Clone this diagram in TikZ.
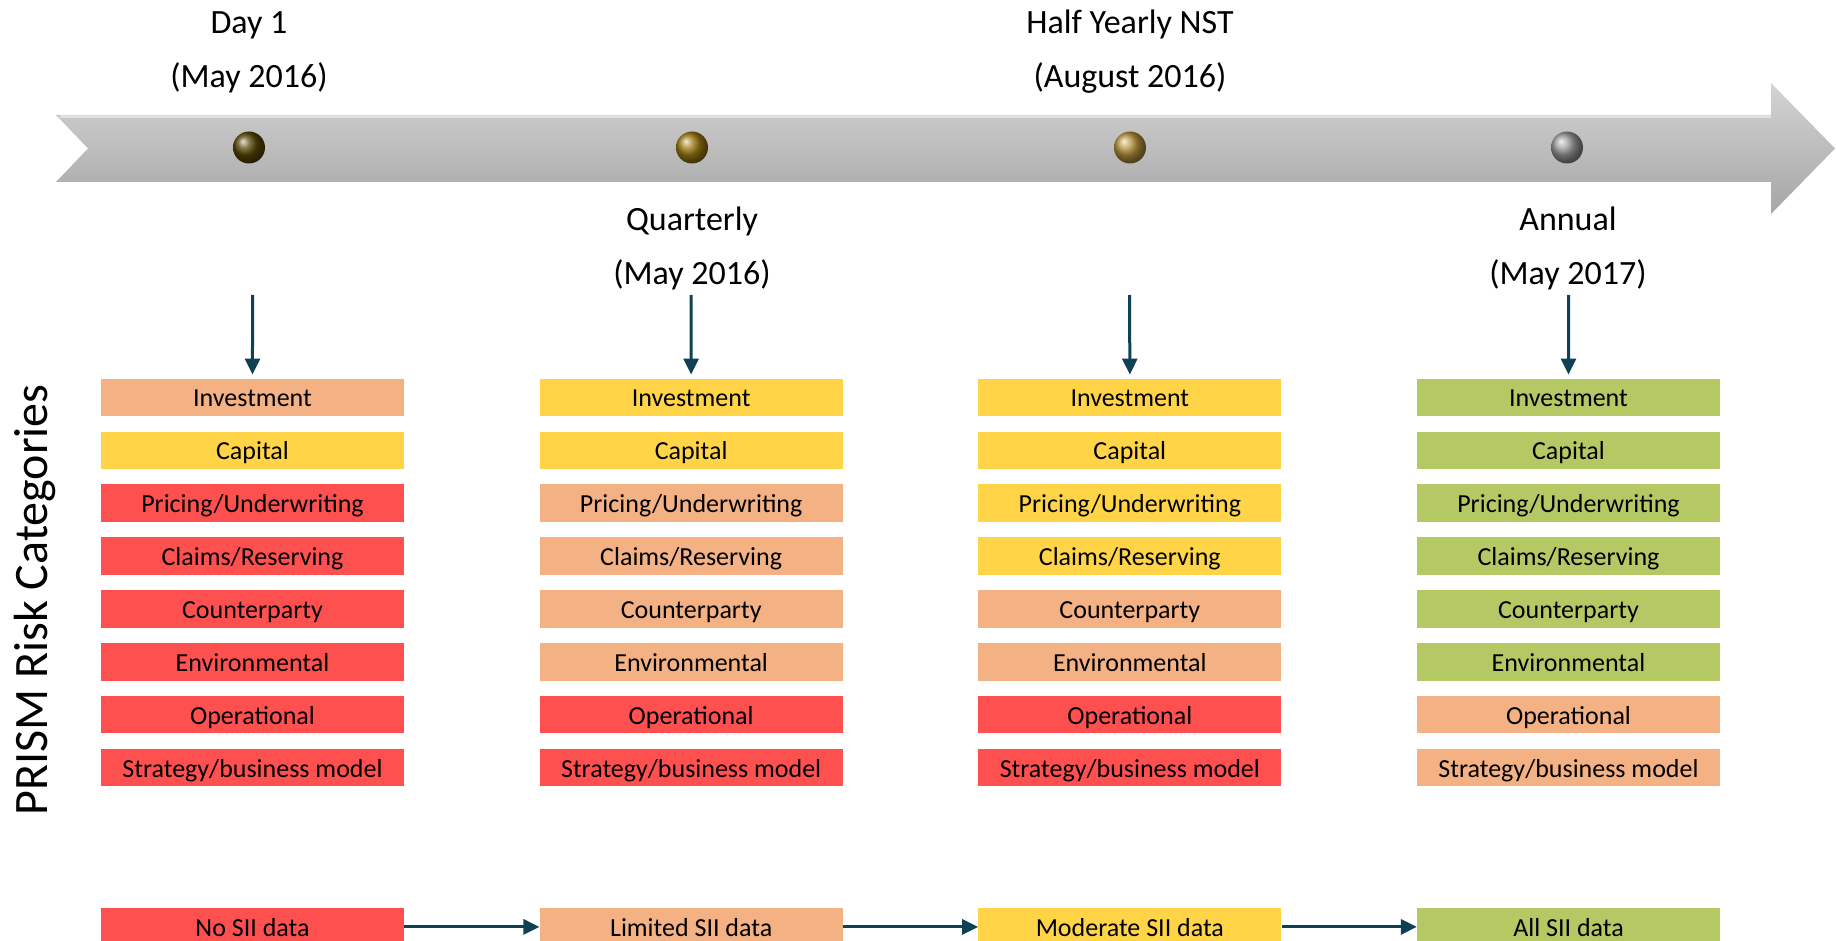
\documentclass[tikz,border=0pt]{standalone}
\usepackage{fontspec}
\setmainfont{Carlito}
\usetikzlibrary{matrix,arrows.meta,positioning}
\definecolor{riskred}{HTML}{FF5050}
\definecolor{riskorange}{HTML}{F4B183}
\definecolor{riskyellow}{HTML}{FFD547}
\definecolor{riskgreen}{HTML}{B4C964}
\definecolor{arrowteal}{HTML}{0E4154}
\definecolor{pinone}{HTML}{584805}
\definecolor{pintwo}{HTML}{9C7A12}
\definecolor{pinthree}{HTML}{B8923E}
\definecolor{pinfour}{HTML}{9A9A9A}
\tikzset{
  cat/.style={minimum width=303pt, minimum height=37.5pt, inner sep=0pt,
    font=\fontsize{26}{30}\selectfont, text height=20pt, text depth=1pt},
  rd/.style={cat, fill=riskred},
  og/.style={cat, fill=riskorange},
  yl/.style={cat, fill=riskyellow},
  gn/.style={cat, fill=riskgreen},
  stage/.style={align=center, font=\fontsize{34}{54}\selectfont},
  link/.style={-{Triangle[length=16pt,width=15pt]}, line width=3pt, draw=arrowteal},
}
\begin{document}
\begin{tikzpicture}[x=1pt,y=-1pt]
  \useasboundingbox (0,0) rectangle (1836,941);
  % timeline arrow
  \shade[top color=black!17, bottom color=black!35]
    (56,115) -- (1771,115) -- (1771,83) -- (1835,148.5) -- (1771,214)
    -- (1771,182) -- (56,182) -- (88,148.5) -- cycle;
  \draw[white!88!black, line width=2.5pt] (60,116.5) -- (1771,116.5);
  \foreach \x/\c in {249/pinone, 692/pintwo, 1130/pinthree, 1567/pinfour} {
    \shade[ball color=\c] (\x,147.5) circle[radius=16pt];
  }
  \node[stage] (day1) at (249,52) {Day 1\\(May 2016)};
  \node[stage] (half) at (1130,52) {Half Yearly NST\\(August 2016)};
  \node[stage] (quart) at (692,248) {Quarterly\\(May 2016)};
  \node[stage] (annual) at (1568,248) {Annual\\(May 2017)};
  \node[rotate=90, font=\fontsize{48}{56}\selectfont] (prism) at (35,600) {PRISM Risk Categories};

  \matrix (m) [matrix of nodes, row sep=15.36pt, column sep=135.67pt, inner sep=0pt,
               nodes={anchor=center}] at (910.5,582.5)
  {
    |[og]| Investment & |[yl]| Investment & |[yl]| Investment & |[gn]| Investment \\
    |[yl]| Capital & |[yl]| Capital & |[yl]| Capital & |[gn]| Capital \\
    |[rd]| Pricing/Underwriting & |[og]| Pricing/Underwriting & |[yl]| Pricing/Underwriting & |[gn]| Pricing/Underwriting \\
    |[rd]| Claims/Reserving & |[og]| Claims/Reserving & |[yl]| Claims/Reserving & |[gn]| Claims/Reserving \\
    |[rd]| Counterparty & |[og]| Counterparty & |[og]| Counterparty & |[gn]| Counterparty \\
    |[rd]| Environmental & |[og]| Environmental & |[og]| Environmental & |[gn]| Environmental \\
    |[rd]| Operational & |[rd]| Operational & |[rd]| Operational & |[og]| Operational \\
    |[rd]| Strategy/business model & |[rd]| Strategy/business model & |[rd]| Strategy/business model & |[og]| Strategy/business model \\
  };

  \foreach \c/\x in {1/252.5, 2/691, 3/1129.6, 4/1568.5} {
    \coordinate (d\c) at (\x,295);
    \draw[link, shorten >=4pt] (d\c) -- (m-1-\c.north);
  }

  % data availability
  \node[rd, below=121.5pt of m-8-1] (b1) {No SII data};
  \node[og, below=121.5pt of m-8-2] (b2) {Limited SII data};
  \node[yl, below=121.5pt of m-8-3] (b3) {Moderate SII data};
  \node[gn, below=121.5pt of m-8-4] (b4) {All SII data};
  \draw[link] (b1) -- (b2);
  \draw[link] (b2) -- (b3);
  \draw[link] (b3) -- (b4);
\end{tikzpicture}
\end{document}
